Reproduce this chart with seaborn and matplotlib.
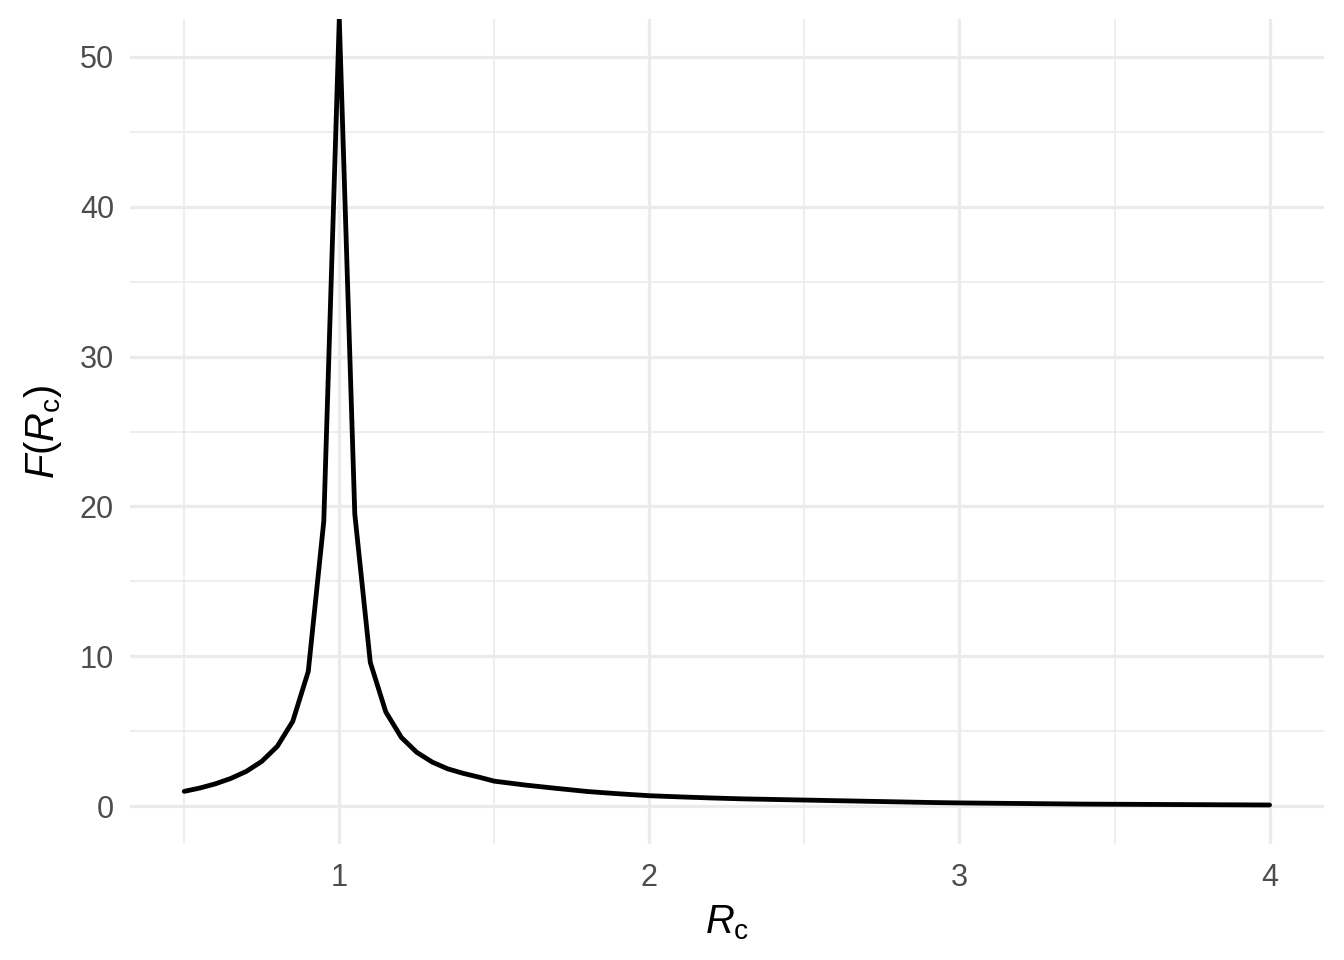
import numpy as np
import pandas as pd
import matplotlib
matplotlib.use("Agg")
import matplotlib.pyplot as plt
import seaborn as sns
from matplotlib.ticker import MultipleLocator

# values (F blows up at Rc = 1)
rc = [0.5, 0.55, 0.6, 0.65, 0.7, 0.75, 0.8, 0.85, 0.9, 0.95, 1.0,
      1.05, 1.1, 1.15, 1.2, 1.25, 1.3, 1.35, 1.4, 1.45, 1.5,
      1.6, 1.7, 1.8, 1.9, 2.0, 2.1, 2.2, 2.3, 2.4, 2.5,
      2.6, 2.7, 2.8, 2.9, 3.0, 3.1, 3.2, 3.3, 3.4, 3.5,
      3.6, 3.7, 3.8, 3.9, 4.0]
f_rc = [1.0, 1.22, 1.5, 1.86, 2.33, 3.0, 4.0, 5.67, 9.0, 19.0, np.inf,
        19.5, 9.6, 6.3, 4.6, 3.6, 2.95, 2.5, 2.2, 1.95, 1.68,
        1.42, 1.2, 0.99, 0.84, 0.71, 0.63, 0.56, 0.5, 0.46, 0.42,
        0.38, 0.34, 0.3, 0.26, 0.23, 0.21, 0.19, 0.17, 0.15, 0.14,
        0.13, 0.12, 0.11, 0.1, 0.09]

y_lim = (-2.5, 52.5)   # ylim 0..50 plus 5% expansion, like coord_cartesian
x_lim = (0.325, 4.175)

sns.set_theme(style="white")
plt.rcParams["font.family"] = ["Liberation Sans", "DejaVu Sans"]
plt.rcParams["mathtext.fontset"] = "custom"
plt.rcParams["mathtext.rm"] = "Liberation Sans"
plt.rcParams["mathtext.it"] = "Liberation Sans:italic"

df = pd.DataFrame({"Rc": rc, "F": f_rc})
# infinite values get drawn at the panel edge, as ggplot does
df["F"] = df["F"].replace(np.inf, y_lim[1])

fig = plt.figure(figsize=(7, 5), dpi=192)
ax = fig.add_axes([0.0967, 0.121, 0.985 - 0.0967, 0.980 - 0.121])

ax.xaxis.set_major_locator(MultipleLocator(1))
ax.xaxis.set_minor_locator(MultipleLocator(0.5))
ax.yaxis.set_major_locator(MultipleLocator(10))
ax.yaxis.set_minor_locator(MultipleLocator(5))
ax.grid(which="major", color="#EBEBEB", linewidth=1.2)
ax.grid(which="minor", color="#EBEBEB", linewidth=0.6)
ax.set_axisbelow(True)

sns.lineplot(data=df, x="Rc", y="F", color="black", linewidth=1.8, ax=ax)

ax.set_xlim(*x_lim)
ax.set_ylim(*y_lim)

for s in ax.spines.values():
    s.set_visible(False)
ax.tick_params(which="both", length=0, labelsize=11.5, labelcolor="#4D4D4D")
ax.tick_params(axis="y", pad=6)
ax.tick_params(axis="x", pad=7)

ax.set_xlabel(r"$R_{\mathrm{c}}$", fontsize=15, color="black", labelpad=4)
ax.set_ylabel(r"$F(R_{\mathrm{c}})$", fontsize=15, color="black", labelpad=6)

fig.savefig("out.png", dpi=192, facecolor="white")
